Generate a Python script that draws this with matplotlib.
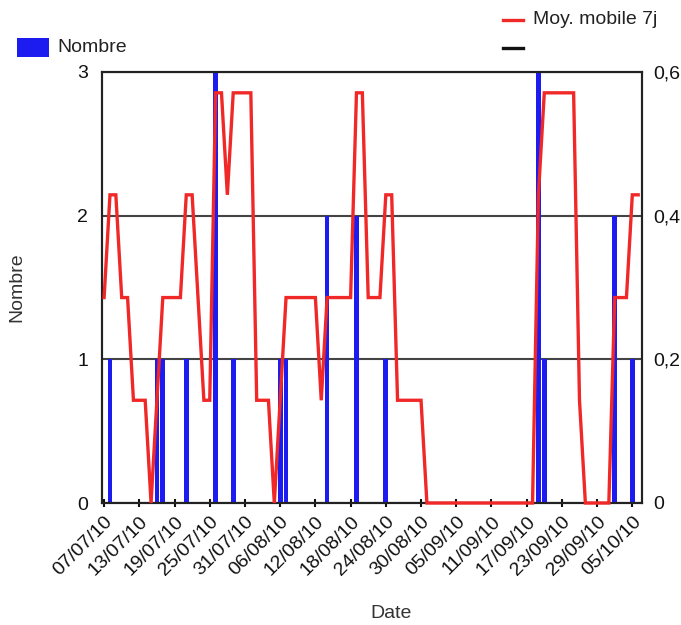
import matplotlib
matplotlib.use("Agg")
import matplotlib.pyplot as plt
from matplotlib.patches import Rectangle
from matplotlib.lines import Line2D
import pandas as pd

plt.rcParams['font.family'] = ['Liberation Sans', 'DejaVu Sans']

# ---- data ----
start_date = "2010-07-07"
bar_dates = ["2010-07-08", "2010-07-16", "2010-07-17", "2010-07-21", "2010-07-26",
             "2010-07-29", "2010-08-06", "2010-08-07", "2010-08-14", "2010-08-19",
             "2010-08-24", "2010-09-19", "2010-09-20", "2010-10-02", "2010-10-05"]
bar_counts = [1, 1, 1, 1, 3, 1, 1, 1, 2, 2, 1, 3, 1, 2, 1]

# 7-day moving average, one value per day from 07/07/10 to 06/10/10
ma7 = [0.286, 0.429, 0.429, 0.286, 0.286, 0.143, 0.143, 0.143, 0.0, 0.143,
       0.286, 0.286, 0.286, 0.286, 0.429, 0.429, 0.286, 0.143, 0.143, 0.571,
       0.571, 0.429, 0.571, 0.571, 0.571, 0.571, 0.143, 0.143, 0.143, 0.0,
       0.143, 0.286, 0.286, 0.286, 0.286, 0.286, 0.286, 0.143, 0.286, 0.286,
       0.286, 0.286, 0.286, 0.571, 0.571, 0.286, 0.286, 0.286, 0.429, 0.429,
       0.143, 0.143, 0.143, 0.143, 0.143, 0.0, 0.0, 0.0, 0.0, 0.0,
       0.0, 0.0, 0.0, 0.0, 0.0, 0.0, 0.0, 0.0, 0.0, 0.0,
       0.0, 0.0, 0.0, 0.0, 0.429, 0.571, 0.571, 0.571, 0.571, 0.571,
       0.571, 0.143, 0.0, 0.0, 0.0, 0.0, 0.0, 0.286, 0.286, 0.286,
       0.429, 0.429]

tick_labels = ["07/07/10", "13/07/10", "19/07/10", "25/07/10", "31/07/10", "06/08/10",
               "12/08/10", "18/08/10", "24/08/10", "30/08/10", "05/09/10", "11/09/10",
               "17/09/10", "23/09/10", "29/09/10", "05/10/10"]
left_ticks = [0, 1, 2, 3]
right_ticks = [0, 0.2, 0.4, 0.6]
right_labels = ["0", "0,2", "0,4", "0,6"]

# ---- figure ----
W, H = 681, 625
fig = plt.figure(figsize=(W / 100, H / 100), dpi=100)
L, R, T, B = 102, 642, 72, 503
ax = fig.add_axes([L / W, (H - B) / H, (R - L) / W, (B - T) / H])

bx = pd.to_datetime(bar_dates)
ax.bar(bx, bar_counts, width=0.8, color='#1c1cf0', zorder=2, linewidth=0)

d0 = pd.Timestamp(start_date)
ax.set_xlim(d0 - pd.Timedelta(hours=8.6), d0 + pd.Timedelta(days=91.65))
ax.set_ylim(0, 3)
ax.set_yticks(left_ticks)
ax.set_yticklabels([str(v) for v in left_ticks])
ax.yaxis.grid(True, color='#444444', linewidth=1.5, zorder=1)
ax.set_axisbelow(True)

tdates = pd.to_datetime(tick_labels, format="%d/%m/%y")
ax.set_xticks(tdates)
ax.set_xticklabels(tick_labels, rotation=45, ha='right', va='top',
                   rotation_mode='anchor', fontsize=14)
ax.tick_params(axis='x', direction='inout', length=6, width=1.5, pad=4.5,
               colors='#111111')
ax.tick_params(axis='y', length=0, pad=10, labelsize=14, colors='#111111')

for s in ax.spines.values():
    s.set_linewidth(1.5)
    s.set_color('#222222')

ax2 = ax.twinx()
lx = pd.date_range(start_date, periods=len(ma7), freq='D')
ax2.plot(lx, ma7, color='#f02828', linewidth=2.4, zorder=3, clip_on=False,
         solid_joinstyle='miter')
ax2.set_ylim(0, 0.6)
ax2.set_yticks(right_ticks)
ax2.set_yticklabels(right_labels)
ax2.tick_params(axis='y', length=0, pad=8, labelsize=14, colors='#111111')
for s in ax2.spines.values():
    s.set_linewidth(1.5)
    s.set_color('#222222')
ax2.set_xlim(ax.get_xlim())

# axis titles
fig.text(17 / W, 1 - 287.5 / H, "Nombre", rotation=90, ha='center', va='center',
         fontsize=14, color='#333333')
fig.text(391 / W, 1 - 614 / H, "Date", ha='center', va='center',
         fontsize=14, color='#333333')

# legends (drawn manually)
fig.add_artist(Rectangle((17 / W, 1 - 57 / H), 32 / W, 19 / H,
                         transform=fig.transFigure, color='#1c1cf0', linewidth=0))
fig.text(57 / W, 1 - 48 / H, "Nombre", ha='left', va='center',
         fontsize=14, color='#222222')
fig.add_artist(Line2D([503 / W, 523 / W], [1 - 20 / H, 1 - 20 / H],
                      transform=fig.transFigure, color='#f02828', linewidth=2.4))
fig.text(533 / W, 1 - 20 / H, "Moy. mobile 7j", ha='left', va='center',
         fontsize=14, color='#222222')
fig.add_artist(Line2D([503 / W, 523 / W], [1 - 48 / H, 1 - 48 / H],
                      transform=fig.transFigure, color='#111111', linewidth=2.4))

fig.savefig("out.png", dpi=100)
